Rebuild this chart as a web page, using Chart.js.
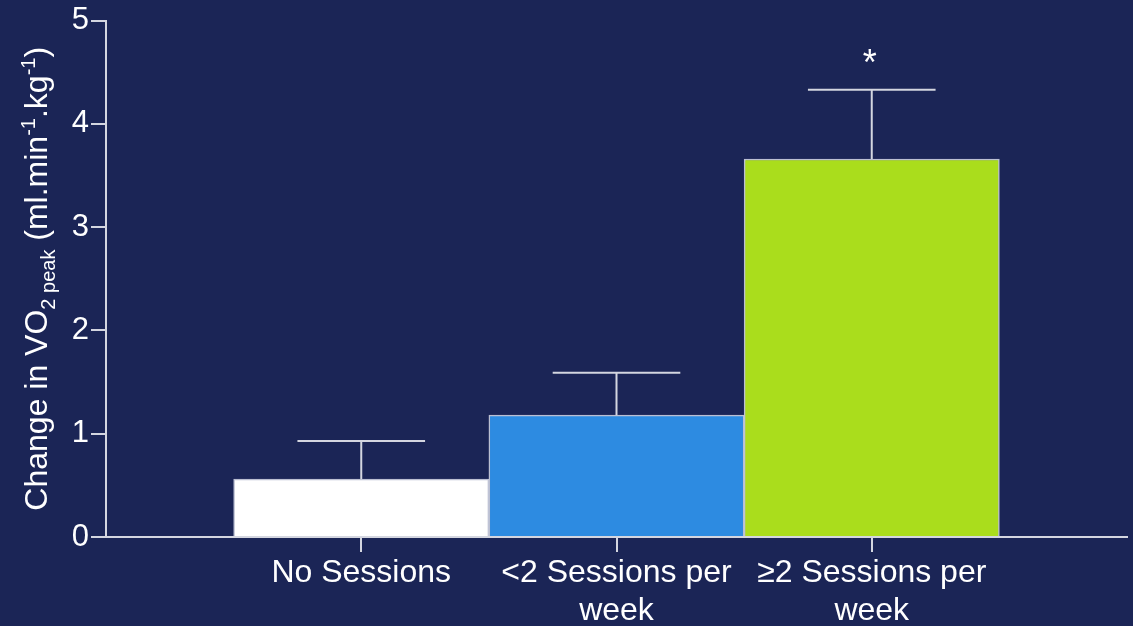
<!DOCTYPE html>
<html>
<head>
<meta charset="utf-8">
<script src="https://cdn.jsdelivr.net/npm/chart.js@4"></script>
<style>
  html, body { margin: 0; padding: 0; background: #1b2556; }
  #wrap { width: 1133px; height: 626px; position: relative; }
</style>
</head>
<body>
<div id="wrap"><canvas id="chart"></canvas></div>
<script>
// Group labels (multi-line where the label wraps)
const categories = ['No Sessions', ['<2 Sessions per', 'week'], ['≥2 Sessions per', 'week']];
// Position of each group along the x axis
const positions = [1, 2, 3];
// Mean change in VO2 peak per group
const means = [0.56, 1.18, 3.66];
// Upper error (SEM) per group
const errors = [0.37, 0.41, 0.67];
// Significance markers
const markers = ['', '', '*'];
// Bar fills
const barColors = ['#ffffff', '#2d8be1', '#aadd1c'];
// Y axis ticks
const yTicks = [0, 1, 2, 3, 4, 5];

const BG = '#1b2556';
const AXIS = '#d4d6e0';
const FONT = '"Liberation Sans", Arial, Helvetica, sans-serif';

const background = {
  id: 'background',
  beforeDraw(chart) {
    const c = chart.ctx;
    c.save();
    c.fillStyle = BG;
    c.fillRect(0, 0, chart.width, chart.height);
    c.restore();
  }
};

// Upper error bars with caps, plus significance markers
const errorBars = {
  id: 'errorBars',
  afterDatasetsDraw(chart) {
    const c = chart.ctx;
    const xs = chart.scales.x, ys = chart.scales.y;
    const meta = chart.getDatasetMeta(0);
    c.save();
    c.strokeStyle = AXIS;
    c.lineWidth = 2;
    positions.forEach((p, i) => {
      const x = xs.getPixelForValue(p);
      const yMean = ys.getPixelForValue(means[i]);
      const yTop = ys.getPixelForValue(means[i] + errors[i]);
      const half = meta.data[i].width / 4;
      c.beginPath();
      c.moveTo(x, yMean);
      c.lineTo(x, yTop);
      c.moveTo(x - half, yTop);
      c.lineTo(x + half, yTop);
      c.stroke();
      if (markers[i]) {
        c.fillStyle = '#ffffff';
        c.font = '36px ' + FONT;
        c.textAlign = 'center';
        c.textBaseline = 'middle';
        c.fillText(markers[i], x - 2, yTop - 25);
      }
    });
    c.restore();
  }
};

// Rotated y axis title with subscript and superscripts
const yTitle = {
  id: 'yTitle',
  afterDraw(chart) {
    const c = chart.ctx;
    const area = chart.chartArea;
    const big = '32px ' + FONT, small = '20px ' + FONT;
    const parts = [
      { t: 'Change in VO', f: big, dy: 0 },
      { t: '2 peak', f: small, dy: 8 },
      { t: ' (ml.min', f: big, dy: 0 },
      { t: '-1', f: small, dy: -12 },
      { t: '.kg', f: big, dy: 0 },
      { t: '-1', f: small, dy: -12 },
      { t: ')', f: big, dy: 0 }
    ];
    c.save();
    let total = 0;
    parts.forEach(p => { c.font = p.f; p.w = c.measureText(p.t).width; total += p.w; });
    c.translate(47, (area.top + area.bottom) / 2);
    c.rotate(-Math.PI / 2);
    c.fillStyle = '#ffffff';
    c.textBaseline = 'alphabetic';
    c.textAlign = 'left';
    let x = -total / 2;
    parts.forEach(p => { c.font = p.f; c.fillText(p.t, x, p.dy); x += p.w; });
    c.restore();
  }
};

new Chart(document.getElementById('chart'), {
  type: 'bar',
  data: {
    datasets: [{
      data: positions.map((p, i) => ({ x: p, y: means[i] })),
      backgroundColor: barColors,
      borderColor: 'rgba(215,218,232,0.85)',
      borderWidth: 1.5,
      barPercentage: 1,
      categoryPercentage: 1
    }]
  },
  options: {
    responsive: true,
    maintainAspectRatio: false,
    animation: false,
    layout: { padding: { top: 5, right: 6, left: 0, bottom: 0 } },
    plugins: { legend: { display: false }, tooltip: { enabled: false } },
    scales: {
      x: {
        type: 'linear',
        min: 0,
        max: 4,
        offset: false,
        afterBuildTicks(scale) { scale.ticks = positions.map(v => ({ value: v })); },
        afterFit(scale) { scale.height = 89; },
        grid: { display: true, drawOnChartArea: false, drawTicks: true, tickLength: 15, tickColor: AXIS, lineWidth: 2, offset: false },
        border: { display: true, color: AXIS, width: 2 },
        ticks: {
          color: '#ffffff',
          font: { family: FONT, size: 32 },
          padding: 2,
          maxRotation: 0,
          autoSkip: false,
          callback(value) {
            const i = positions.indexOf(value);
            return i >= 0 ? categories[i] : '';
          }
        }
      },
      y: {
        min: 0,
        max: 5,
        afterBuildTicks(scale) { scale.ticks = yTicks.map(v => ({ value: v })); },
        afterFit(scale) { scale.width = 106; },
        grid: { display: true, drawOnChartArea: false, drawTicks: true, tickLength: 15, tickColor: AXIS, lineWidth: 2 },
        border: { display: true, color: AXIS, width: 2 },
        ticks: {
          color: '#ffffff',
          font: { family: FONT, size: 31 },
          padding: 2
        }
      }
    }
  },
  plugins: [background, errorBars, yTitle]
});
</script>
</body>
</html>
